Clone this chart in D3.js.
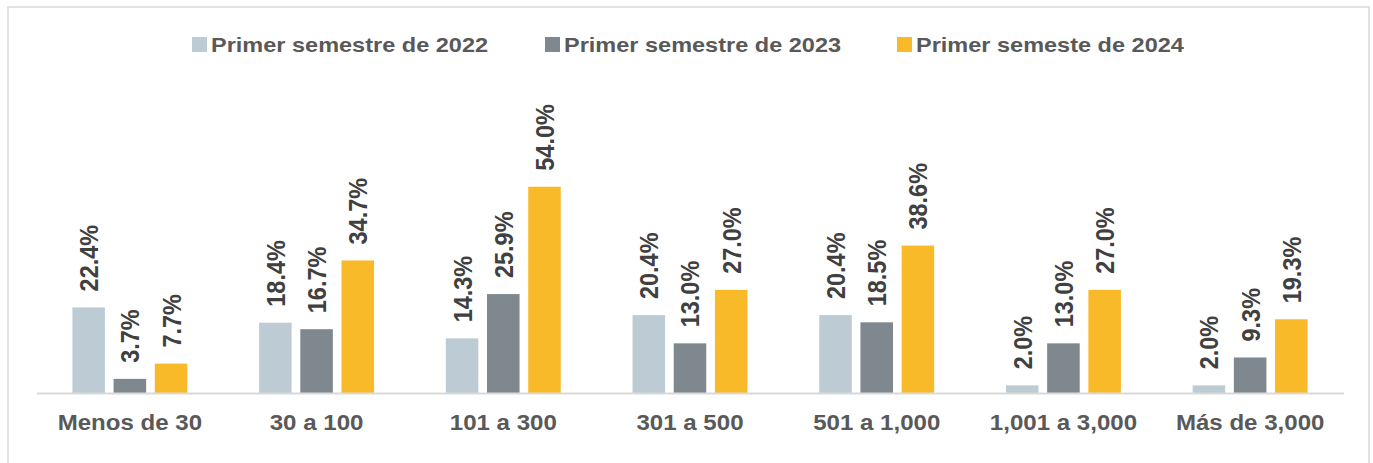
<!DOCTYPE html>
<html><head><meta charset="utf-8">
<script src="https://cdn.jsdelivr.net/npm/d3@7"></script>
<style>body{margin:0;background:#fff}svg{display:block}</style>
</head><body><svg id="c" width="1373" height="463"></svg>
<script>
const categories = ["Menos de 30","30 a 100","101 a 300","301 a 500","501 a 1,000","1,001 a 3,000","Más de 3,000"];
const seriesNames = ["Primer semestre de 2022","Primer semestre de 2023","Primer semeste de 2024"];
const s2022 = [22.4,18.4,14.3,20.4,20.4,2.0,2.0];
const s2023 = [3.7,16.7,25.9,13.0,18.5,13.0,9.3];
const s2024 = [7.7,34.7,54.0,27.0,38.6,27.0,19.3];
const colors = ["#BDCCD4","#7F888E","#F9BA2A"];

const seriesValues = [s2022,s2023,s2024];
const svg = d3.select("#c");
const SX = 1.12;
const FONT = "'Liberation Sans', Arial, Helvetica, sans-serif";

// border
svg.append("rect").attr("x",8).attr("y",7).attr("width",1361).attr("height",470)
  .attr("fill","none").attr("stroke","#D9D9D9").attr("stroke-width",1.5);

const x = d3.scaleBand().domain(categories).range([36.5,1343.5]);
const xi = d3.scaleBand().domain(d3.range(3)).range([-61.8,61.8]).paddingInner(0.21).paddingOuter(0.105);
const y = d3.scaleLinear().domain([0,60]).range([393,163.8]);

const data = [];
categories.forEach((c,i)=>seriesValues.forEach((s,k)=>data.push({c,k,v:s[i]})));

svg.append("g").selectAll("rect").data(data).join("rect")
  .attr("x",d=>x(d.c)+x.bandwidth()/2+xi(d.k))
  .attr("width",xi.bandwidth())
  .attr("y",d=>y(d.v))
  .attr("height",d=>y(0)-y(d.v))
  .attr("fill",d=>colors[d.k]);

// baseline axis
const ax = svg.append("g").attr("transform",`translate(0,${y(0)})`)
  .call(d3.axisBottom(x).tickSize(0).tickPadding(0));
ax.select(".domain").attr("stroke","#D9D9D9").attr("stroke-width",2);
ax.selectAll(".tick text").remove();
ax.selectAll(".tick").each(function(d){
  d3.select(this).append("text")
    .attr("transform",`translate(0,37) scale(${SX},1)`)
    .attr("text-anchor","middle").attr("fill","#595959")
    .style("font-family",FONT).style("font-weight","bold").style("font-size","21.5px")
    .text(d);
});

// data labels
svg.append("g").selectAll("text").data(data).join("text")
  .attr("transform",d=>`translate(${x(d.c)+x.bandwidth()/2+xi(d.k)+xi.bandwidth()/2},${y(d.v)-16}) scale(${SX},1) rotate(-90)`)
  .attr("dy","0.36em")
  .attr("fill","#404040")
  .style("font-family",FONT).style("font-weight","bold").style("font-size","23.5px")
  .text(d=>d.v.toFixed(1)+"%");

// legend
const legX = [192,545,897];
const leg = svg.append("g").selectAll("g").data(seriesNames).join("g")
  .attr("transform",(d,i)=>`translate(${legX[i]},37)`);
leg.append("rect").attr("width",15).attr("height",15).attr("fill",(d,i)=>colors[i]);
leg.append("text").attr("transform",`translate(19,15) scale(${SX},1)`)
  .attr("fill","#595959")
  .style("font-family",FONT).style("font-weight","bold").style("font-size","21px")
  .text(d=>d);
</script></body></html>
